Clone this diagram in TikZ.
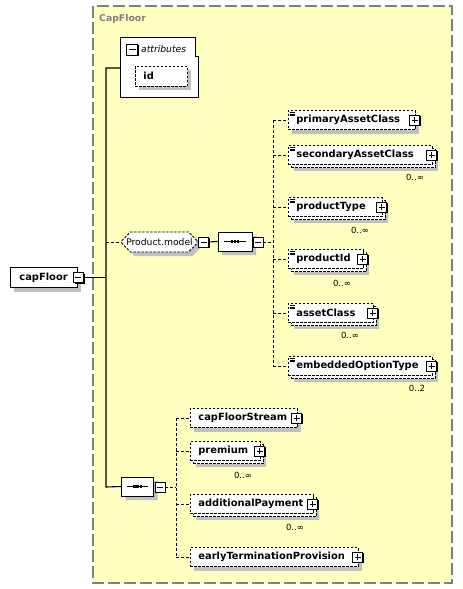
\documentclass[tikz,border=0pt]{standalone}
\usepackage{fontspec}
\setmainfont{DejaVu Sans}
\usetikzlibrary{shapes.misc}

\definecolor{typefill}{HTML}{FFFFC0}
\definecolor{typeline}{HTML}{808080}
\definecolor{shadowgray}{HTML}{C0C0C0}

\newcommand\xsdbold{\fontsize{9.9}{11}\selectfont\bfseries}
\newcommand\xsdplain{\fontsize{9.2}{11}\selectfont}
\newcommand\xsdsmall{\fontsize{8.5}{10}\selectfont}

\tikzset{
  conn/.style = {line width=1.1pt},
  optconn/.style = {line width=1pt, dash pattern=on 3pt off 2pt},
  typebox/.style = {fill=typefill, draw=typeline, line width=1.2pt, dash pattern=on 12pt off 4pt},
  typetitle/.style = {anchor=west, inner sep=0pt, text=typeline, font=\fontsize{9.3}{11}\selectfont\bfseries},
  onecopy/.style = {preaction={draw=none, fill=shadowgray, transform canvas={xshift=4pt, yshift=-4pt}}},
  manycopies/.style = {preaction={draw=none, fill=shadowgray, transform canvas={xshift=6pt, yshift=-6pt}},
    preaction={draw=black, fill=white, dash pattern=on 2.5pt off 1.5pt, transform canvas={xshift=3pt, yshift=-3pt}}},
  elem/.style = {draw, fill=white, dash pattern=on 2.5pt off 1.5pt, line width=0.8pt, font=\xsdbold,
    anchor=west, minimum height=19pt, inner xsep=8pt, inner ysep=0pt, text width=#1, align=left},
  docmark/.style = {path picture={\foreach \k in {0,1,2}
    \draw[solid, line width=0.6pt] ([xshift=1.2pt, yshift=-1.6pt-1.7pt*\k]path picture bounding box.north west) -- ++(5pt,0);}},
  btnshade/.style = {preaction={draw=none, fill=black, transform canvas={xshift=1.2pt, yshift=-1.2pt}}},
  minusbox/.style = {draw, solid, fill=white, line width=0.8pt, minimum size=10pt, inner sep=0pt, btnshade,
    path picture={\draw[line width=0.8pt] ([xshift=2pt]path picture bounding box.west) -- ([xshift=-2pt]path picture bounding box.east);}},
  plusbox/.style = {minusbox,
    path picture={\draw[line width=0.8pt] ([xshift=2pt]path picture bounding box.west) -- ([xshift=-2pt]path picture bounding box.east)
      ([yshift=-2pt]path picture bounding box.north) -- ([yshift=2pt]path picture bounding box.south);}},
  seqbox/.style = {chamfered rectangle, chamfered rectangle xsep=4pt, chamfered rectangle ysep=5pt, draw, solid, fill=white,
    line width=0.9pt, minimum width=34pt, minimum height=19pt, inner sep=0pt, onecopy},
  groupbox/.style = {chamfered rectangle, chamfered rectangle xsep=4pt, chamfered rectangle ysep=5pt, draw, fill=white,
    line width=0.8pt, dash pattern=on 2.5pt off 1.5pt, minimum width=75pt, minimum height=20pt, inner sep=0pt,
    font=\xsdplain, onecopy},
  mult/.style = {inner sep=0pt, font=\xsdsmall}
}

\begin{document}
\begin{tikzpicture}[x=1pt, y=-1pt]
\useasboundingbox[fill=white] (0,0) rectangle (463,589);

% complex type
\draw[typebox] (93,6) rectangle (452,583);
\node[typetitle] (typeName) at (99,19) {CapFloor};

% root element
\node[elem=49pt, solid, onecopy, inner xsep=9pt, minimum height=20pt] (capFloor) at (10,277.5) {capFloor};
\node[minusbox] (capFloorMinus) at ([xshift=0.5pt]capFloor.east) {};

% attributes
\node[minimum width=77pt, minimum height=59pt, inner sep=0pt] (attributes) at (159.5,67.5) {};
\draw[line width=0.8pt, fill=white] (attributes.north west) -- ([xshift=-3pt]attributes.north east)
  -- ([xshift=-3pt, yshift=-19pt]attributes.north east) -- ([yshift=-19pt]attributes.north east)
  -- (attributes.south east) -- (attributes.south west) -- cycle;
\node[minusbox, minimum size=11pt] (attrMinus) at (132,49.5) {};
\node[anchor=west, inner sep=0pt, font=\xsdplain\itshape] (attrLabel) at (141,49) {attributes};
\node[elem=36pt, onecopy, minimum height=20pt] (idAttr) at (135,76) {id};

% trunk
\coordinate (trunkTop) at (106,68);
\coordinate (trunkMid) at (106,277.5);
\coordinate (trunkBot) at (106,487);

% Product.model group
\node[groupbox] (productModel) at (159.5,242) {Product.model};
\node[minusbox] (productModelMinus) at (203.5,242) {};
\node[seqbox] (modelSeq) at (235,241.5) {};
\node[minusbox] (modelSeqMinus) at (258,242) {};
\coordinate (branchA) at (273,242);

\node[elem=111pt, docmark, onecopy] (primaryAssetClass) at (288,120) {primaryAssetClass};
\node[elem=128pt, docmark, manycopies] (secondaryAssetClass) at (288,155) {secondaryAssetClass};
\node[elem=78pt, docmark, manycopies] (productType) at (288,207) {productType};
\node[elem=59pt, docmark, manycopies] (productId) at (288,259) {productId};
\node[elem=69pt, docmark, manycopies] (assetClass) at (288,313) {assetClass};
\node[elem=128pt, docmark, manycopies] (embeddedOptionType) at (288,366) {embeddedOptionType};

\node[mult] (secondaryAssetClassMult) at (415,177) {0..∞};
\node[mult] (productTypeMult) at (360,230) {0..∞};
\node[mult] (productIdMult) at (342,283) {0..∞};
\node[mult] (assetClassMult) at (350,335) {0..∞};
\node[mult] (embeddedOptionTypeMult) at (417,388) {0..2};

% main sequence
\node[seqbox, minimum width=32pt] (mainSeq) at (137.5,486.5) {};
\node[minusbox] (mainSeqMinus) at (160,487) {};
\coordinate (branchB) at (176,487);

\node[elem=91pt, onecopy] (capFloorStream) at (190,418) {capFloorStream};
\node[elem=54pt, manycopies] (premium) at (190,451) {premium};
\node[elem=107pt, manycopies] (additionalPayment) at (190,504) {additionalPayment};
\node[elem=152pt, onecopy] (earlyTerminationProvision) at (190,557) {earlyTerminationProvision};

\node[mult] (premiumMult) at (243,475) {0..∞};
\node[mult] (additionalPaymentMult) at (295,527) {0..∞};

% sequence marks
\foreach \s in {modelSeq,mainSeq}{
  \draw[line width=1pt] ([xshift=6pt]\s.west) -- ([xshift=-6pt]\s.east);
  \foreach \d in {-3.2,0,3.2}
    \fill ([xshift=\d pt-1.2pt, yshift=-1.2pt]\s.center) rectangle ([xshift=\d pt+1.2pt, yshift=1.2pt]\s.center);
}

% connectors
\draw[conn] (capFloorMinus.east) -- (trunkMid);
\draw[conn] (attributes.west |- trunkTop) -- (trunkTop) -- (trunkBot) -- (mainSeq.west);
\draw[optconn] (trunkTop |- productModel.west) -- (productModel.west);
\draw[conn] (productModelMinus.east) -- (modelSeq.west);
\draw[optconn] (modelSeqMinus.east) -- (branchA);
\draw[optconn] (branchA |- primaryAssetClass.west) -- (branchA |- embeddedOptionType.west);
\foreach \e in {primaryAssetClass,secondaryAssetClass,productType,productId,assetClass,embeddedOptionType}{
  \draw[optconn] (branchA |- \e.west) -- (\e.west);
  \node[plusbox] (\e-plus) at ([xshift=-1pt]\e.east) {};
}
\draw[optconn] (mainSeqMinus.east) -- (branchB);
\draw[optconn] (branchB |- capFloorStream.west) -- (branchB |- earlyTerminationProvision.west);
\foreach \e in {capFloorStream,premium,additionalPayment,earlyTerminationProvision}{
  \draw[optconn] (branchB |- \e.west) -- (\e.west);
  \node[plusbox] (\e-plus) at ([xshift=-1pt]\e.east) {};
}
\end{tikzpicture}
\end{document}
